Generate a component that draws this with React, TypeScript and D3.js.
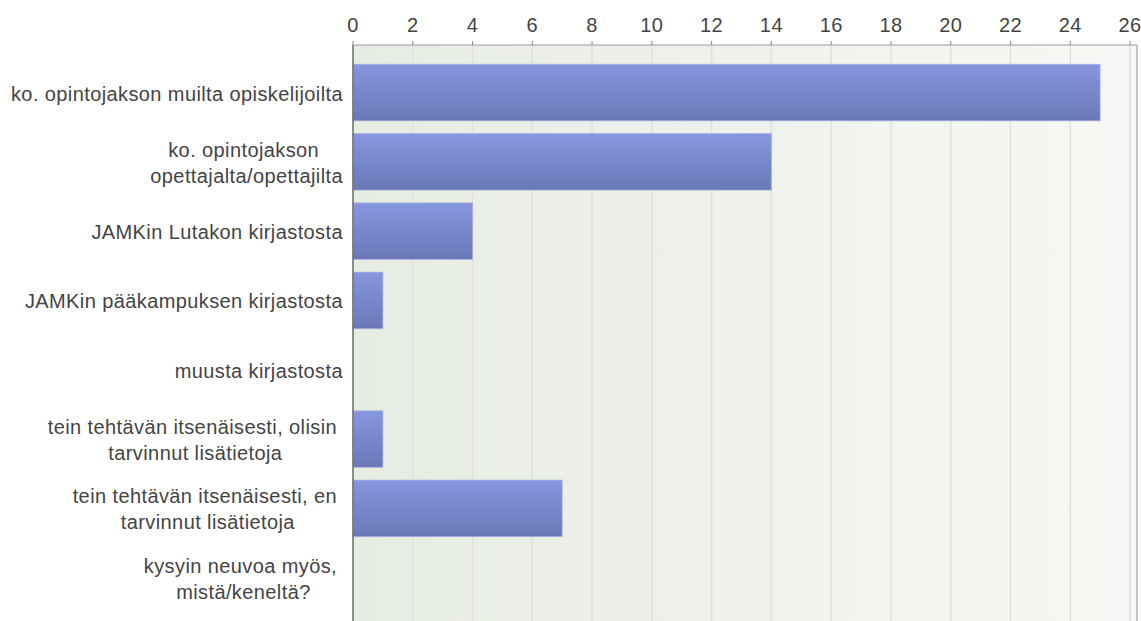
import React from "react";
import * as d3 from "d3";

const categories: string[] = [
  "ko. opintojakson muilta opiskelijoilta",
  "ko. opintojakson\nopettajalta/opettajilta",
  "JAMKin Lutakon kirjastosta",
  "JAMKin pääkampuksen kirjastosta",
  "muusta kirjastosta",
  "tein tehtävän itsenäisesti, olisin\ntarvinnut lisätietoja",
  "tein tehtävän itsenäisesti, en\ntarvinnut lisätietoja",
  "kysyin neuvoa myös,\nmistä/keneltä?",
];
const values: number[] = [25, 14, 4, 1, 0, 1, 7, 0];
const tickValues: number[] = [0, 2, 4, 6, 8, 10, 12, 14, 16, 18, 20, 22, 24, 26];

const W = 1141;
const H = 621;
const FONT = '"Liberation Sans", Arial, sans-serif';
const FS = 20;
const LS = 0.4;

let ctx: CanvasRenderingContext2D | null = null;
function measure(s: string): number {
  if (!ctx) {
    const c = document.createElement("canvas");
    ctx = c.getContext("2d");
  }
  if (!ctx) return s.length * FS * 0.5;
  ctx.font = `${FS}px ${FONT}`;
  return ctx.measureText(s).width + s.length * LS;
}

export default function App() {
  const x = d3.scaleLinear().domain([0, 26]).range([353, 1130]);
  const y = d3
    .scaleBand<string>()
    .domain(categories)
    .range([57.9, 612.3])
    .paddingInner(0.185)
    .paddingOuter(0.0925);

  const plotTop = 45;
  const plotLeft = x(0);
  const plotRight = 1137;
  const labelRight = 343;
  const lineH = 26;

  return (
    <svg
      width={W}
      height={H}
      style={{ position: "absolute", left: 0, top: 0, background: "#fff" }}
      fontFamily={FONT}
    >
      <defs>
        <linearGradient id="bg" x1="0" x2="1" y1="0" y2="0">
          <stop offset="0" stopColor="#e7ece2" />
          <stop offset="1" stopColor="#f7f8f5" />
        </linearGradient>
        <linearGradient id="bar" x1="0" x2="0" y1="0" y2="1">
          <stop offset="0" stopColor="#8697e0" />
          <stop offset="1" stopColor="#6a78b7" />
        </linearGradient>
      </defs>
      <rect
        x={plotLeft}
        y={plotTop}
        width={plotRight - plotLeft}
        height={H - plotTop}
        fill="url(#bg)"
      />
      {tickValues.map((t) => (
        <line
          key={"g" + t}
          x1={x(t)}
          x2={x(t)}
          y1={plotTop}
          y2={H}
          stroke="#dfe2dc"
          strokeWidth={1.5}
        />
      ))}
      <line x1={plotRight} x2={plotRight} y1={plotTop} y2={H} stroke="#c6c6c6" strokeWidth={2} />
      {/* top axis */}
      <line x1={plotLeft} x2={plotRight} y1={plotTop} y2={plotTop} stroke="#9a9a9a" strokeWidth={1} />
      {tickValues.map((t) => (
        <g key={"t" + t}>
          <line x1={x(t)} x2={x(t)} y1={plotTop - 4} y2={plotTop} stroke="#888" strokeWidth={1} />
          <text
            x={x(t)}
            y={32}
            textAnchor="middle"
            fontSize={FS}
            fill="#444"
            style={{ letterSpacing: `${LS}px` }}
          >
            {t}
          </text>
        </g>
      ))}
      {categories.map((c, i) => {
        const v = values[i];
        const by = y(c) as number;
        const bh = y.bandwidth();
        return v > 0 ? (
          <rect
            key={"b" + i}
            x={x(0)}
            y={by}
            width={x(v) - x(0)}
            height={bh}
            fill="url(#bar)"
            stroke="#a3aee2"
            strokeOpacity={0.7}
            strokeWidth={1}
          />
        ) : null;
      })}
      <line x1={plotLeft} x2={plotLeft} y1={plotTop} y2={H} stroke="#6f6f6f" strokeWidth={1.5} />
      {categories.map((c, i) => {
        const lines = c.split("\n");
        const cy = (y(c) as number) + y.bandwidth() / 2;
        const widths = lines.map((l, k) => measure(k < lines.length - 1 ? l + " " : l));
        const bw = Math.max(...widths);
        const left = labelRight - bw;
        const n = lines.length;
        return lines.map((l, k) => {
          const base = cy + 8 + (k - (n - 1) / 2) * lineH;
          const lx = n === 1 ? labelRight - widths[k] : left + (bw - widths[k]) / 2;
          return (
            <text
              key={"l" + i + "_" + k}
              x={lx}
              y={base}
              fontSize={FS}
              fill="#444"
              style={{ letterSpacing: `${LS}px` }}
            >
              {l}
            </text>
          );
        });
      })}
    </svg>
  );
}
